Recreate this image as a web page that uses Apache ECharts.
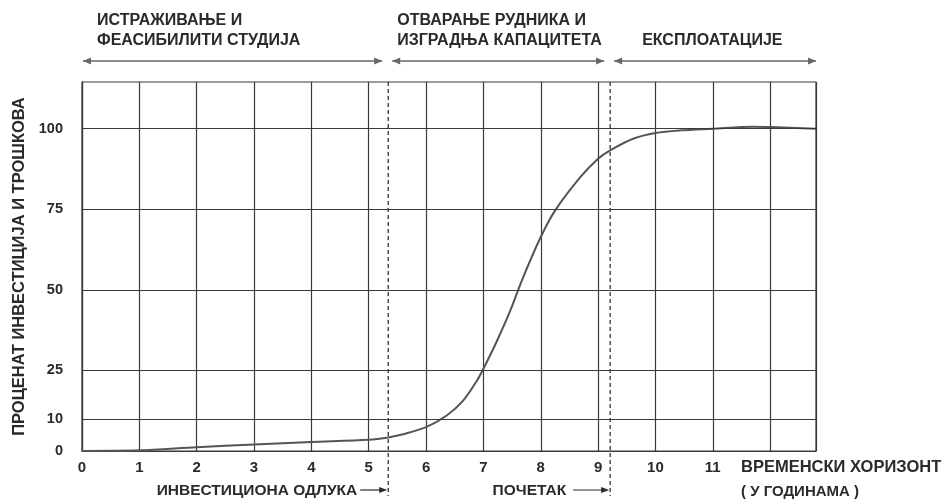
<!DOCTYPE html>
<html><head><meta charset="utf-8">
<script src="https://cdn.jsdelivr.net/npm/echarts@6/dist/echarts.min.js"></script>
<style>html,body{margin:0;padding:0;background:#fff}#c{width:951px;height:500px}</style>
</head><body><div id="c"></div>
<script>
// ---- data ----
const years = [0, 1, 2, 3, 4, 5, 5.36, 5.6, 6, 6.36, 6.65, 6.89, 7, 7.24, 7.47, 7.67, 8, 8.26, 8.69, 9, 9.21, 9.61, 10, 10.44, 11, 11.7, 12, 12.8];
const percent = [0, 0.2, 1.2, 2.0, 2.8, 3.5, 4.3, 5.2, 7.4, 11.0, 15.7, 21.9, 25.5, 34.3, 43.6, 52.9, 66.4, 74.9, 85, 90.7, 93.3, 96.9, 98.7, 99.5, 100, 100.6, 100.5, 100];
const xTickLabels = [0, 1, 2, 3, 4, 5, 6, 7, 8, 9, 10, 11];
const yTickLabels = [0, 10, 25, 50, 75, 100];
const phaseBounds = [5.34, 9.21];
const xMax = 12.8, yMax = 114.5;
const phaseTitles = [["ИСТРАЖИВАЊЕ И", "ФЕАСИБИЛИТИ СТУДИЈА"], ["ОТВАРАЊЕ РУДНИКА И", "ИЗГРАДЊА КАПАЦИТЕТА"], ["ЕКСПЛОАТАЦИЈЕ"]];
const yAxisTitle = "ПРОЦЕНАТ ИНВЕСТИЦИЈА И ТРОШКОВА";
const xAxisTitle = ["ВРЕМЕНСКИ ХОРИЗОНТ", "( У ГОДИНАМА )"];
const markerLabels = ["ИНВЕСТИЦИОНА ОДЛУКА", "ПОЧЕТАК"];

(function () {
const FONT = '"Liberation Sans", Arial, sans-serif';
const INK = '#2a2a2a';
const GRID = '#3a3a3a';
const chart = echarts.init(document.getElementById('c'));
chart.setOption({
  animation: false,
  backgroundColor: '#fff',
  grid: { left: 82, right: 135, top: 82, bottom: 49, show: true, borderColor: GRID, borderWidth: 1.2, containLabel: false },
  xAxis: {
    type: 'value', min: 0, max: xMax, interval: 1,
    axisLine: { show: true, lineStyle: { color: GRID, width: 1.2 } },
    axisTick: { show: false },
    splitLine: { show: true, lineStyle: { color: GRID, width: 1.2 } },
    axisLabel: { margin: 9, color: INK, fontWeight: 'bold', fontSize: 15, fontFamily: FONT,
      formatter: v => xTickLabels.includes(v) ? String(v) : '' }
  },
  yAxis: {
    type: 'value', min: 0, max: yMax, interval: 5,
    name: yAxisTitle, nameLocation: 'middle', nameRotate: 90, nameGap: 53,
    nameTextStyle: { color: INK, fontWeight: 'bold', fontSize: 16.5, fontFamily: FONT },
    axisLine: { show: true, lineStyle: { color: GRID, width: 1.2 } },
    axisTick: { show: false },
    splitLine: { show: false },
    axisLabel: { margin: 19, color: INK, fontWeight: 'bold', fontSize: 14.5, fontFamily: FONT,
      formatter: v => yTickLabels.includes(v) ? String(v) : '' }
  },
  series: [{
    type: 'line', data: years.map((x, i) => [x, percent[i]]),
    smooth: 0.3, symbol: 'none',
    lineStyle: { color: '#555', width: 2 },
    markLine: {
      silent: true, symbol: 'none', label: { show: false },
      lineStyle: { color: GRID, width: 1.2, type: 'solid' },
      data: yTickLabels.filter(v => v > 0).map(v => ({ yAxis: v }))
    }
  }]
});

const P = (x, y) => chart.convertToPixel({ gridIndex: 0 }, [x, y]);
const yTop = P(0, yMax)[1];
const x0 = P(0, 0)[0], xE = P(xMax, 0)[0];
const bx = phaseBounds.map(b => P(b, 0)[0]);
const g = [];
const ARROW = '#666';
function head(x, y, dir) {
  g.push({ type: 'polygon', shape: { points: [[x, y], [x - dir * 8, y - 3.5], [x - dir * 8, y + 3.5]] }, style: { fill: ARROW } });
}
function arrow(xa, xb, y) {
  g.push({ type: 'line', shape: { x1: xa, y1: y, x2: xb, y2: y }, style: { stroke: ARROW, lineWidth: 1.3 } });
  head(xa, y, -1);
  head(xb, y, 1);
}
const ay = yTop - 21;
arrow(x0 + 1, bx[0] - 6, ay);
arrow(bx[0] + 4, bx[1] - 6, ay);
arrow(bx[1] + 4, xE, ay);
bx.forEach(x => g.push({ type: 'line', shape: { x1: x, y1: yTop, x2: x, y2: 496 }, style: { stroke: '#222', lineWidth: 1.2, lineDash: [4, 3] } }));
function txt(t, x, y, bold, size, align) {
  g.push({ type: 'text', style: { text: t, x: x, y: y, fill: INK, font: (bold ? 'bold ' : '') + size + 'px ' + FONT, textAlign: align || 'left', textVerticalAlign: 'middle' } });
}
const hx = [x0 + 15, bx[0] + 9, bx[1] + 32];
phaseTitles.forEach((lines, i) => {
  if (lines.length === 2) { txt(lines[0], hx[i], 21, true, 16); txt(lines[1], hx[i], 41, true, 16); }
  else txt(lines[0], hx[i], 41, true, 16);
});
txt(xAxisTitle[0], 741, 467, true, 16.5);
txt(xAxisTitle[1], 741, 492, true, 15);
const textGap = [31, 44], arrowLen = [28, 37];
[0, 1].forEach(i => {
  const b = bx[i];
  txt(markerLabels[i], b - textGap[i], 491, true, 15.5, 'right');
  g.push({ type: 'line', shape: { x1: b - arrowLen[i], y1: 490, x2: b - 4, y2: 490 }, style: { stroke: INK, lineWidth: 1.2 } });
  g.push({ type: 'polygon', shape: { points: [[b - 1, 490], [b - 9, 487], [b - 9, 493]] }, style: { fill: INK } });
});
chart.setOption({ graphic: { elements: g } });
})();
</script></body></html>
